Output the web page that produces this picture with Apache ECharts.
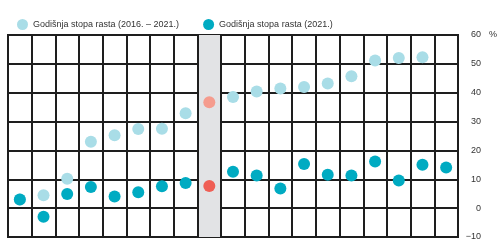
<!DOCTYPE html>
<html>
<head>
<meta charset="utf-8">
<script src="https://cdn.jsdelivr.net/npm/echarts@6/dist/echarts.min.js"></script>
<style>
  html, body { margin: 0; padding: 0; background: #fff; }
  #el { width: 500px; height: 244px; }
</style>
</head>
<body>
<div id="el"></div>
<script>
// podaci
let categories = ['K1', 'K2', 'K3', 'K4', 'K5', 'K6', 'K7', 'K8', 'K9', 'K10',
    'K11', 'K12', 'K13', 'K14', 'K15', 'K16', 'K17', 'K18', 'K19']
let rast2016_2021 = [3, 4.5, 10.2, 23, 25.3, 27.4, 27.5, 32.9, 36.7, 38.5,
    40.4, 41.5, 42, 43.2, 45.7, 51.2, 52, 52.3, null]
let rast2021 = [3, -3, 4.9, 7.3, 4, 5.5, 7.6, 8.7, 7.7, 12.6,
    11.3, 6.8, 15.3, 11.6, 11.3, 16.2, 9.6, 15, 14.1]
let yTicks = [-10, 0, 10, 20, 30, 40, 50, 60]
let istaknuto = 8

let fontName = "'Liberation Sans Narrow', 'Liberation Sans', sans-serif"

function markData(values, highlightColor) {
    return values.map((v, i) => i === istaknuto
        ? { value: v, itemStyle: { color: highlightColor } }
        : v)
}

let bandColors = categories.map((c, i) => i === istaknuto ? '#e2e3e5' : 'rgba(0,0,0,0)')

let myCharts = echarts.init(document.querySelector('#el'), null, { renderer: 'canvas' })
myCharts.setOption({
    animation: false,
    legend: {
        left: 12,
        top: 14,
        itemWidth: 11,
        itemHeight: 11,
        itemGap: 24,
        icon: 'circle',
        textStyle: { fontFamily: fontName, fontSize: 9, color: '#333' }
    },
    grid: {
        left: 8, right: 39, top: 35, bottom: 7,
        show: true, borderColor: '#1e1e1e', borderWidth: 2
    },
    xAxis: {
        type: 'category',
        data: categories,
        boundaryGap: true,
        axisLabel: { show: false, interval: 0 },
        axisTick: { show: false, interval: 0 },
        axisLine: { show: false },
        splitLine: { show: true, interval: 0, lineStyle: { color: '#1e1e1e', width: 2 } },
        splitArea: { show: true, interval: 0, areaStyle: { color: bandColors } }
    },
    yAxis: {
        type: 'value',
        position: 'right',
        min: yTicks[0],
        max: yTicks[yTicks.length - 1],
        interval: 10,
        name: '%',
        nameLocation: 'end',
        nameGap: 0,
        nameTextStyle: {
            fontFamily: fontName, fontSize: 9, color: '#333',
            align: 'left', verticalAlign: 'middle', padding: [0, 0, 0, 31]
        },
        axisLine: { show: false },
        axisTick: { show: false },
        axisLabel: {
            align: 'right', margin: 23,
            fontFamily: fontName, fontSize: 9, color: '#333',
            formatter: v => v < 0 ? '\u2212' + Math.abs(v) : String(v)
        },
        splitLine: { show: true, lineStyle: { color: '#1e1e1e', width: 2 } }
    },
    series: [
        {
            name: 'Godišnja stopa rasta (2016. – 2021.)',
            type: 'scatter',
            symbolSize: 12,
            itemStyle: { color: '#a9dde7', opacity: 1 },
            data: markData(rast2016_2021, '#f59c8e')
        },
        {
            name: 'Godišnja stopa rasta (2021.)',
            type: 'scatter',
            symbolSize: 12,
            itemStyle: { color: '#00abc2', opacity: 1 },
            data: markData(rast2021, '#ef5f55')
        }
    ]
})
</script>
</body>
</html>
